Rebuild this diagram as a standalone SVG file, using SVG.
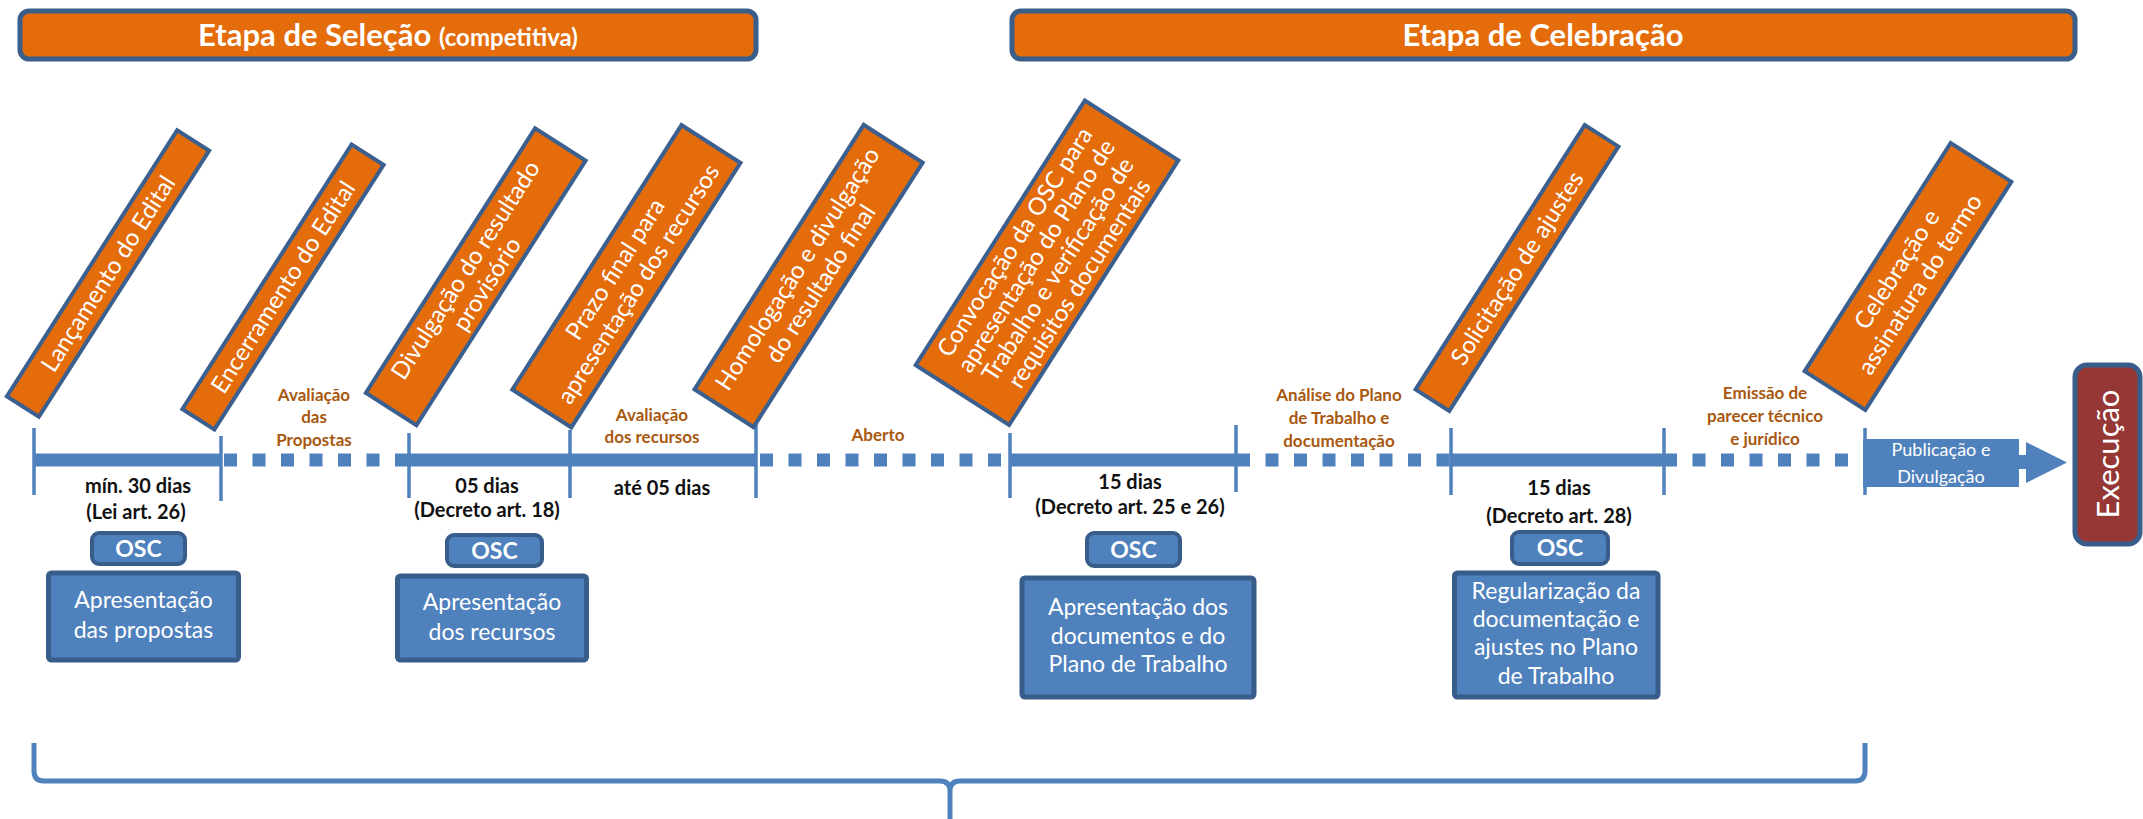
<svg xmlns="http://www.w3.org/2000/svg" width="2143" height="819" viewBox="0 0 2143 819">
<style>
text{font-family:Lato,"Open Sans","Liberation Sans",sans-serif}
.hdr{fill:#E46C0A;stroke:#3A5E8A;stroke-width:5}
.hdrt{fill:#fff;font-weight:bold;font-size:31px;text-anchor:middle}
.ob{fill:#E46C0A;stroke:#3B6090;stroke-width:4}
.obt{fill:#fff;font-size:24px;text-anchor:middle}
.tick{stroke:#4F81BD;stroke-width:3.5}
.solid{stroke:#4F81BD;stroke-width:13}
.dots{stroke:#4F81BD;stroke-width:13;stroke-dasharray:13 15.5}
.lbl{fill:#A8580F;font-size:17px;font-weight:bold;text-anchor:middle}
.dur{fill:#111;font-size:20px;font-weight:bold;text-anchor:middle}
.osc{fill:#4F81BD;stroke:#385D8A;stroke-width:4}
.osct{fill:#fff;font-size:23px;font-weight:bold;text-anchor:middle}
.bb{fill:#4F81BD;stroke:#385D8A;stroke-width:5}
.bbt{fill:#fff;font-size:23px;text-anchor:middle}
</style>

<g id="header-selecao">
<rect class="hdr" x="20" y="11" width="736" height="48" rx="9"/>
<text class="hdrt" x="388" y="46">Etapa de Seleção <tspan font-size="24">(competitiva)</tspan></text>
</g>
<g id="header-celebracao">
<rect class="hdr" x="1012" y="11" width="1063" height="48" rx="9"/>
<text class="hdrt" x="1543" y="46">Etapa de Celebração</text>
</g>

<g id="connectors">
<line class="solid" x1="34" y1="460" x2="221" y2="460"/>
<line class="dots" x1="224" y1="460" x2="408" y2="460"/>
<line class="solid" x1="409" y1="460" x2="756" y2="460"/>
<line class="dots" x1="760" y1="460" x2="1008" y2="460"/>
<line class="solid" x1="1010" y1="460" x2="1236" y2="460"/>
<line class="dots" x1="1237" y1="460" x2="1450" y2="460"/>
<line class="solid" x1="1451" y1="460" x2="1664" y2="460"/>
<line class="dots" x1="1664" y1="460" x2="1862" y2="460"/>
<line class="tick" x1="34" y1="428" x2="34" y2="495"/>
<line class="tick" x1="221" y1="436" x2="221" y2="501"/>
<line class="tick" x1="409" y1="433" x2="409" y2="498"/>
<line class="tick" x1="570" y1="430" x2="570" y2="498"/>
<line class="tick" x1="756" y1="423" x2="756" y2="498"/>
<line class="tick" x1="1010" y1="433" x2="1010" y2="498"/>
<line class="tick" x1="1236" y1="425" x2="1236" y2="492"/>
<line class="tick" x1="1451" y1="428" x2="1451" y2="495"/>
<line class="tick" x1="1664" y1="428" x2="1664" y2="495"/>
<line class="tick" x1="1865" y1="428" x2="1865" y2="495"/>
<rect x="2015" y="455" width="12" height="14" fill="#4F81BD"/>
<polygon points="2026,442 2067,462.5 2026,483" fill="#4F81BD"/>
<path d="M34 743 L34 771 Q34 781 44 781 L940 781 Q950 781 950 791 L950 819 M950 791 Q950 781 960 781 L1855 781 Q1865 781 1865 771 L1865 743" fill="none" stroke="#4F81BD" stroke-width="5"/>
</g>

<g id="box-lancamento" transform="translate(108,273.5) rotate(-57.4)">
<rect class="ob" x="-158" y="-19" width="316" height="38"/>
<text class="obt" x="0" y="8.5">Lançamento do Edital</text>
</g>
<g id="box-encerramento" transform="translate(283,287) rotate(-57.4)">
<rect class="ob" x="-157" y="-19" width="314" height="38"/>
<text class="obt" x="0" y="8.5">Encerramento do Edital</text>
</g>
<g id="box-divulgacao" transform="translate(475.75,276.75) rotate(-57.4)">
<rect class="ob" x="-157" y="-30" width="314" height="60"/>
<text class="obt" x="0" y="-4">Divulgação do resultado</text>
<text class="obt" x="0" y="21.5">provisório</text>
</g>
<g id="box-prazo" transform="translate(626.4,276.25) rotate(-57.4)">
<rect class="ob" x="-157" y="-35" width="314" height="70"/>
<text class="obt" x="0" y="-5">Prazo final para</text>
<text class="obt" x="0" y="22.5">apresentação dos recursos</text>
</g>
<g id="box-homologacao" transform="translate(808.6,276) rotate(-57.4)">
<rect class="ob" x="-157" y="-35" width="314" height="70"/>
<text class="obt" x="0" y="-5">Homologação e divulgação</text>
<text class="obt" x="0" y="22.5">do resultado final</text>
</g>
<g id="box-convocacao" transform="translate(1047,262.75) rotate(-57.4)">
<rect class="ob" x="-157" y="-55.5" width="314" height="111"/>
<text class="obt" x="0" y="-30" font-size="25">Convocação da OSC para</text>
<text class="obt" x="0" y="-4.5" font-size="25">apresentação do Plano de</text>
<text class="obt" x="0" y="21" font-size="25">Trabalho e verificação de</text>
<text class="obt" x="0" y="46.5" font-size="25">requisitos documentais</text>
</g>
<g id="box-solicitacao" transform="translate(1517,268) rotate(-57.4)">
<rect class="ob" x="-157" y="-20" width="314" height="40"/>
<text class="obt" x="0" y="8.5">Solicitação de ajustes</text>
</g>
<g id="box-celebracao" transform="translate(1908,276.5) rotate(-57.4)">
<rect class="ob" x="-135.5" y="-36" width="271" height="72"/>
<text class="obt" x="0" y="-5">Celebração e</text>
<text class="obt" x="0" y="22.5">assinatura do termo</text>
</g>

<g id="lbl-avaliacao-propostas">
<text class="lbl" x="314" y="401">Avaliação</text>
<text class="lbl" x="314" y="423">das</text>
<text class="lbl" x="314" y="446">Propostas</text>
</g>
<g id="lbl-avaliacao-recursos">
<text class="lbl" x="652" y="421">Avaliação</text>
<text class="lbl" x="652" y="443">dos recursos</text>
</g>
<g id="lbl-aberto"><text class="lbl" x="878" y="441">Aberto</text></g>
<g id="lbl-analise">
<text class="lbl" x="1339" y="401">Análise do Plano</text>
<text class="lbl" x="1339" y="424">de Trabalho e</text>
<text class="lbl" x="1339" y="447">documentação</text>
</g>
<g id="lbl-emissao">
<text class="lbl" x="1765" y="399">Emissão de</text>
<text class="lbl" x="1765" y="422">parecer técnico</text>
<text class="lbl" x="1765" y="445">e jurídico</text>
</g>

<g id="dur-30">
<text class="dur" x="138" y="493">mín. 30 dias</text>
<text class="dur" x="136" y="519">(Lei art. 26)</text>
</g>
<g id="dur-05">
<text class="dur" x="487" y="493">05 dias</text>
<text class="dur" x="487" y="517" font-size="14.5">(Decreto art. 18)</text>
</g>
<g id="dur-ate05"><text class="dur" x="662" y="495">até 05 dias</text></g>
<g id="dur-15a">
<text class="dur" x="1130" y="489">15 dias</text>
<text class="dur" x="1130" y="514" font-size="14.5">(Decreto art. 25 e 26)</text>
</g>
<g id="dur-15b">
<text class="dur" x="1559" y="495">15 dias</text>
<text class="dur" x="1559" y="523" font-size="18">(Decreto art. 28)</text>
</g>

<g id="osc-1"><rect class="osc" x="92" y="533" width="93" height="31" rx="7"/><text class="osct" x="138.5" y="557">OSC</text></g>
<g id="osc-2"><rect class="osc" x="447" y="535" width="95" height="31" rx="7"/><text class="osct" x="494.5" y="559">OSC</text></g>
<g id="osc-3"><rect class="osc" x="1087" y="533" width="93" height="33" rx="7"/><text class="osct" x="1133.5" y="558">OSC</text></g>
<g id="osc-4"><rect class="osc" x="1512" y="532" width="96" height="32" rx="7"/><text class="osct" x="1560" y="556">OSC</text></g>

<g id="box-apresentacao-propostas">
<rect class="bb" x="48.5" y="573" width="190" height="87" rx="3"/>
<text class="bbt" x="143.5" y="608">Apresentação</text>
<text class="bbt" x="143.5" y="638">das propostas</text>
</g>
<g id="box-apresentacao-recursos">
<rect class="bb" x="397.5" y="576" width="189" height="84" rx="3"/>
<text class="bbt" x="492" y="610">Apresentação</text>
<text class="bbt" x="492" y="640">dos recursos</text>
</g>
<g id="box-apresentacao-documentos">
<rect class="bb" x="1022" y="578" width="232" height="119" rx="3"/>
<text class="bbt" x="1138" y="615" font-size="22">Apresentação dos</text>
<text class="bbt" x="1138" y="644" font-size="22">documentos e do</text>
<text class="bbt" x="1138" y="672" font-size="22">Plano de Trabalho</text>
</g>
<g id="box-regularizacao">
<rect class="bb" x="1454.5" y="573" width="203.5" height="124" rx="3"/>
<text class="bbt" x="1556" y="599" font-size="22">Regularização  da</text>
<text class="bbt" x="1556" y="627" font-size="22">documentação  e</text>
<text class="bbt" x="1556" y="655" font-size="22">ajustes no Plano</text>
<text class="bbt" x="1556" y="684" font-size="22">de Trabalho</text>
</g>

<g id="box-publicacao">
<rect x="1863" y="439" width="156" height="48" fill="#4F81BD"/>
<text x="1941" y="456" fill="#fff" font-size="18" text-anchor="middle">Publicação e</text>
<text x="1941" y="483" fill="#fff" font-size="18" text-anchor="middle">Divulgação</text>
</g>

<g id="box-execucao">
<rect x="2075" y="365" width="65" height="179" rx="12" fill="#953735" stroke="#385D8A" stroke-width="5"/>
<text x="0" y="0" transform="translate(2119,454) rotate(-90)" fill="#fff" font-size="31" text-anchor="middle">Execução</text>
</g>
</svg>
